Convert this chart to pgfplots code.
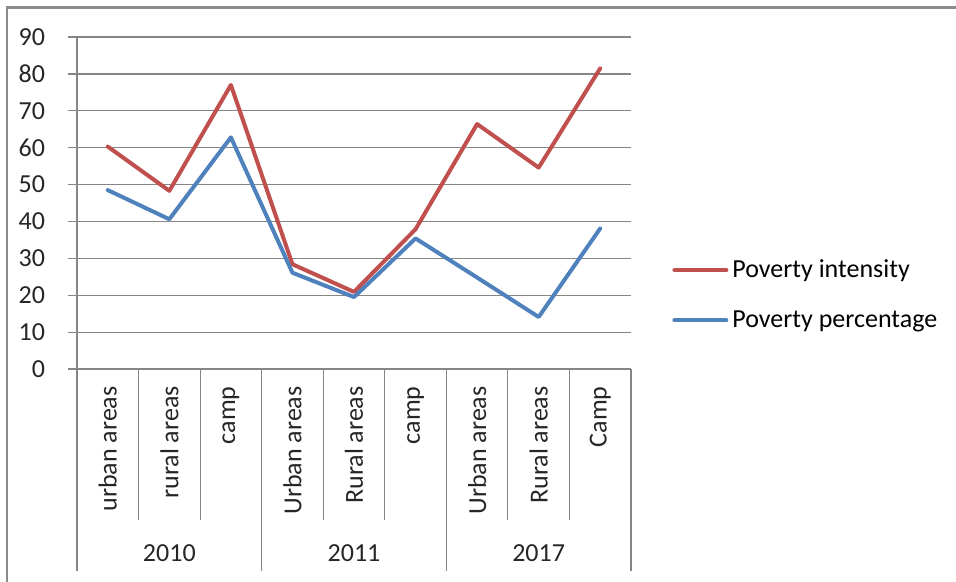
\documentclass[border=0pt]{standalone}
\usepackage{pgfplots}
\pgfplotsset{compat=1.18}
\usepackage{fontspec}
\setmainfont{Carlito}
\definecolor{gridgray}{HTML}{868686}
\definecolor{framegray}{HTML}{8C8C8C}
\definecolor{intred}{HTML}{C0504D}
\definecolor{pctblue}{HTML}{4F81BD}

\begin{document}
\begin{tikzpicture}
\useasboundingbox (0pt,0pt) rectangle (478pt,-291pt);
\draw[framegray, line width=1.2pt] (3.5pt,-295pt) -- (3.5pt,-3.8pt) -- (480pt,-3.8pt);

\begin{axis}[
	at={(38.5pt,-184.5pt)}, anchor=south west,
	scale only axis, width=277pt, height=166pt,
	xmin=-0.5, xmax=8.5, ymin=0, ymax=90,
	ytick={0,10,...,90},
	xtick={0,...,8},
	xticklabels={urban areas, rural areas, camp, Urban areas, Rural areas, camp, Urban areas, Rural areas, Camp},
	xticklabel style={rotate=90, anchor=east, inner sep=0pt},
	xticklabel shift=4pt,
	yticklabel shift=8pt,
	major x tick style={draw=none},
	ymajorgrids, major grid style={gridgray, line width=0.6pt},
	tick align=outside, major tick length=4.5pt,
	major y tick style={gridgray, line width=0.6pt},
	axis x line*=bottom, axis y line*=left,
	axis line style={gridgray, line width=0.6pt, -},
	x axis line style={draw=none},
	tick label style={font=\fontsize{13}{15}\selectfont, text=black!85},
	/pgf/number format/assume math mode=true,
	clip=false,
	legend style={at={(1.074,0.223)}, anchor=west, draw=none, fill=none,
		inner sep=0pt, row sep=11pt, font=\fontsize{13}{15}\selectfont,
		cells={anchor=west}},
	legend image code/.code={\draw[#1, line width=2pt, line cap=round] (0pt,0pt) -- (26pt,0pt);},
]
\addplot[intred, line width=2pt, line join=round, line cap=round] coordinates {
	(0,60.3) (1,48.3) (2,77.0) (3,28.4) (4,20.9) (5,37.9) (6,66.4) (7,54.6) (8,81.5)};
\addlegendentry{Poverty intensity}
\addplot[pctblue, line width=2pt, line join=round, line cap=round] coordinates {
	(0,48.5) (1,40.6) (2,62.8) (3,26.1) (4,19.5) (5,35.4) (6,24.8) (7,14.1) (8,38.1)};
\addlegendentry{Poverty percentage}

\draw[gridgray, line width=0.6pt] (axis cs:-0.5,0) -- (axis cs:8.5,0);
\pgfplotsinvokeforeach{0.5,1.5,3.5,4.5,6.5,7.5}{
	\draw[gridgray, line width=0.6pt] (axis cs:#1,0) -- ++(0pt,-75.5pt);
}
\pgfplotsinvokeforeach{-0.5,2.5,5.5,8.5}{
	\draw[gridgray, line width=0.6pt] (axis cs:#1,0) -- ++(0pt,-101pt);
}
\node[font=\fontsize{13}{15}\selectfont, text=black!85] at (axis cs:1,0) [yshift=-92pt] {2010};
\node[font=\fontsize{13}{15}\selectfont, text=black!85] at (axis cs:4,0) [yshift=-92pt] {2011};
\node[font=\fontsize{13}{15}\selectfont, text=black!85] at (axis cs:7,0) [yshift=-92pt] {2017};
\end{axis}
\end{tikzpicture}
\end{document}
